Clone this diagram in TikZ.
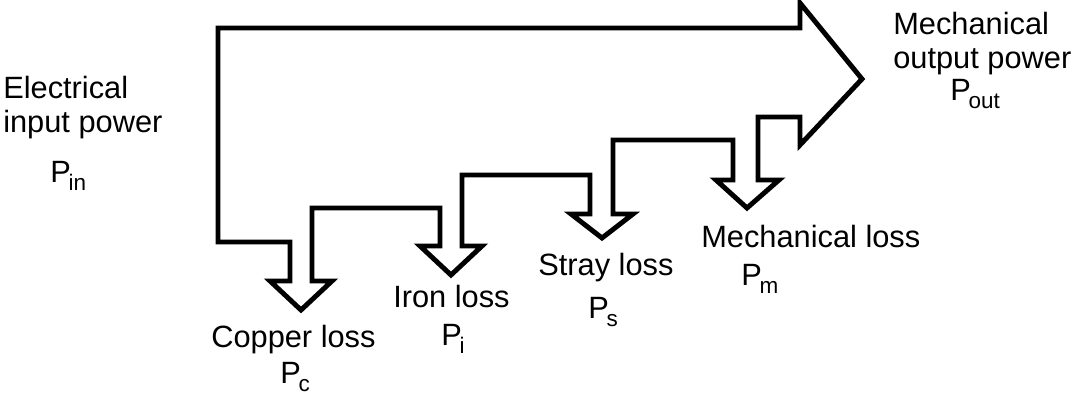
\documentclass[tikz,border=0pt]{standalone}
\usepackage{fontspec}
\setmainfont{Liberation Sans}
\usetikzlibrary{positioning}
\newcommand{\pwr}[1]{P\kern-1.5pt\raisebox{-6pt}{\fontsize{16}{16}\selectfont #1}}

\begin{document}
\begin{tikzpicture}[
    x=0.25mm, y=-0.25mm,
    font=\fontsize{21.9}{24}\selectfont,
    flow/.style={draw, line width=3.5pt, line join=miter},
    lbl/.style={anchor=base west, inner sep=0pt, align=left},
    sym/.style={anchor=base west, inner sep=0pt}
]
\useasboundingbox (0,0) rectangle (1077,398);

\draw[flow] (218,28) -- (800,28) -- (800,3) -- (862,79) -- (800,145) -- (800,117) -- (758,117)
    -- (758,180) -- (779,180) -- (747,208) -- (716,180) -- (733,180) -- (733,140)
    -- (613,140) -- (613,214) -- (633,214) -- (602,238) -- (571,214) -- (590,214) -- (590,175)
    -- (462,175) -- (462,246) -- (482,246) -- (451,275) -- (420,246) -- (440,246) -- (440,208)
    -- (312,208) -- (312,281) -- (332,281) -- (301,310) -- (270,281) -- (290,281) -- (290,242)
    -- (218,242) -- cycle;

\node[lbl] (elec) at (3,132) {Electrical\\input power};
\node[sym] (pin) at (50,182) {\pwr{in}};
\node[lbl] (mout) at (893,68) {Mechanical\\output power};
\node[sym] (pout) at (950,100) {\pwr{out}};
\node[lbl] (copper) at (211,347) {Copper loss};
\node[sym] (pc) at (280,383) {\pwr{c}};
\node[lbl] (iron) at (393,307) {Iron loss};
\node[sym] (pi) at (441,345) {\pwr{i}};
\node[lbl] (stray) at (538,275) {Stray loss};
\node[sym] (ps) at (588,318) {\pwr{s}};
\node[lbl] (mech) at (701,247) {Mechanical loss};
\node[sym] (pm) at (741,285) {\pwr{m}};

\end{tikzpicture}
\end{document}
